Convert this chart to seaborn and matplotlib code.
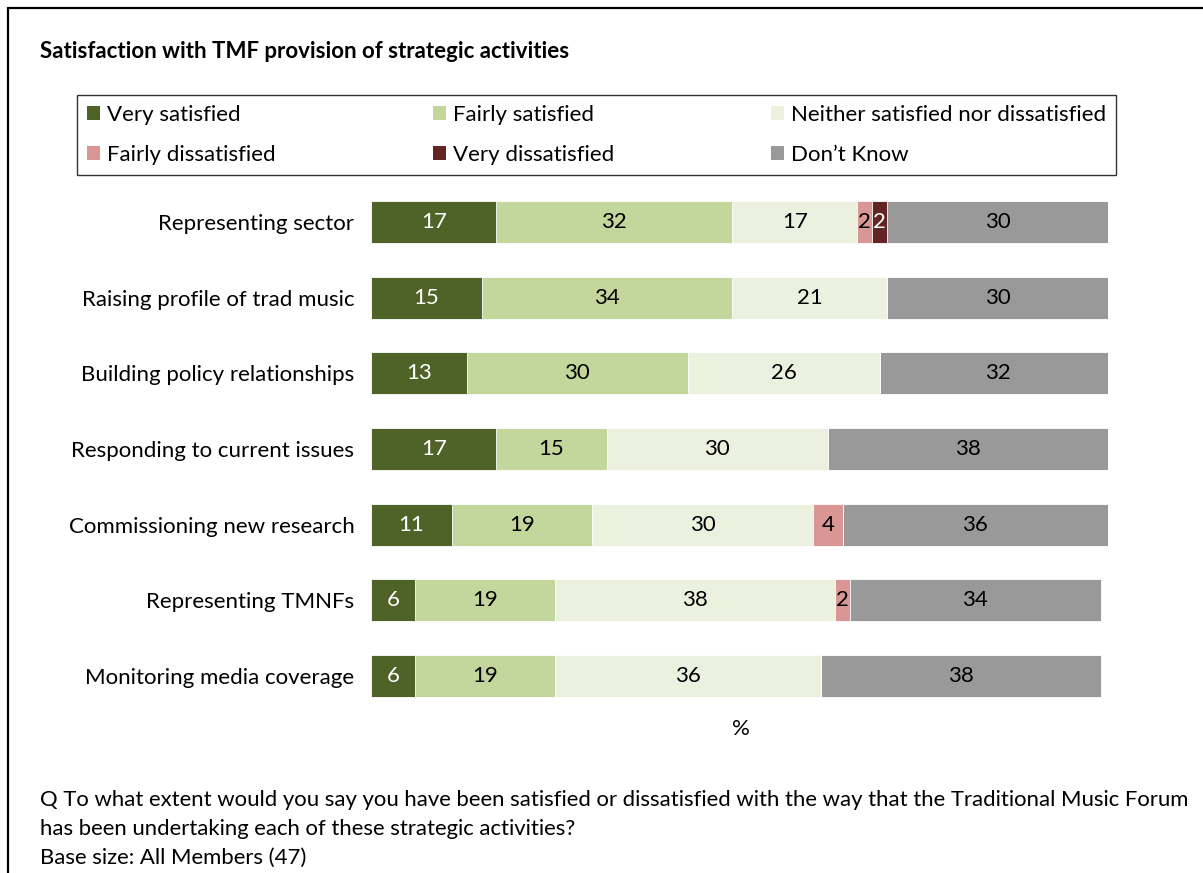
import numpy as np
import pandas as pd
import matplotlib
matplotlib.use("Agg")
import matplotlib.pyplot as plt
from matplotlib.patches import Patch
from matplotlib.lines import Line2D
import seaborn as sns

# Survey results (% of members) per strategic activity
activities = [
    "Representing sector",
    "Raising profile of trad music",
    "Building policy relationships",
    "Responding to current issues",
    "Commissioning new research",
    "Representing TMNFs",
    "Monitoring media coverage",
]
very_satisfied = [17, 15, 13, 17, 11, 6, 6]
fairly_satisfied = [32, 34, 30, 15, 19, 19, 19]
neither = [17, 21, 26, 30, 30, 38, 36]
fairly_dissatisfied = [2, 0, 0, 0, 4, 2, 0]
very_dissatisfied = [2, 0, 0, 0, 0, 0, 0]
dont_know = [30, 30, 32, 38, 36, 34, 38]

categories = ["Very satisfied", "Fairly satisfied",
              "Neither satisfied nor dissatisfied", "Fairly dissatisfied",
              "Very dissatisfied", "Don\u2019t Know"]
colors = ["#4F6228", "#C3D69B", "#EBF1DE", "#D99694", "#632523", "#999999"]
text_colors = ["white", "black", "black", "black", "white", "black"]

series = [very_satisfied, fairly_satisfied, neither,
          fairly_dissatisfied, very_dissatisfied, dont_know]

sns.set_theme(style="white")
plt.rcParams["font.family"] = ["Lato", "DejaVu Sans"]
plt.rcParams["text.color"] = "black"
plt.rcParams["ytick.color"] = "black"
plt.rcParams["axes.labelcolor"] = "black"

FS = 16

W, H = 1203, 873
fig = plt.figure(figsize=(W / 100, H / 100), dpi=100)


def fx(x):
    return x / W


def fy(y):
    return 1 - y / H


ax = fig.add_axes([fx(371), fy(714), fx(1108) - fx(371), fy(184) - fy(714)])

df = pd.DataFrame({"activity": activities})
cum = np.zeros(len(activities))
cums = []
for s in series:
    cum = cum + np.array(s)
    cums.append(cum.copy())
for i, c in enumerate(cums):
    df[categories[i]] = c

# Stack by overlaying cumulative totals, widest first
for i in range(len(categories) - 1, -1, -1):
    sns.barplot(data=df, x=categories[i], y="activity", orient="h",
                color=colors[i], saturation=1, width=0.555,
                edgecolor="white", linewidth=0.6, ax=ax)

# Segment value labels
for i, s in enumerate(series):
    for r, v in enumerate(s):
        if v > 0:
            centre = cums[i][r] - v / 2
            ax.text(centre, r, f"{v}", ha="center", va="center",
                    fontsize=FS, color=text_colors[i])

ax.set_xlim(0, 100)
ax.set_ylim(len(activities) - 0.5, -0.5)
ax.set_xlabel("")
ax.set_ylabel("")
ax.set_xticks([])
ax.tick_params(axis="y", length=0, pad=12, labelsize=FS, labelcolor="black")
for sp in ax.spines.values():
    sp.set_visible(False)

fig.text(fx(741), fy(729), "%", ha="center", va="center", fontsize=FS)

# Title
fig.text(fx(40), fy(51), "Satisfaction with TMF provision of strategic activities",
         ha="left", va="center", fontsize=16, fontweight="bold")

# Legend (row-wise order across three columns)
order = [0, 3, 1, 4, 2, 5]
handles = [Patch(facecolor=colors[k], edgecolor="none", label=categories[k]) for k in order]
leg = fig.legend(handles=handles, ncol=3, loc="upper left",
                 bbox_to_anchor=(fx(77), fy(173), fx(1116) - fx(77), fy(95) - fy(173)),
                 mode="expand", borderaxespad=0, fontsize=FS, frameon=True,
                 fancybox=False, edgecolor="black", borderpad=0.45,
                 labelspacing=0.9, handlelength=0.6, handleheight=0.6,
                 handletextpad=0.3, columnspacing=0.5)
leg.get_frame().set_linewidth(1.0)

# Question text
fig.text(fx(40), fy(800), "Q To what extent would you say you have been satisfied or dissatisfied "
         "with the way that the Traditional Music Forum", ha="left", va="center", fontsize=15.9)
fig.text(fx(40), fy(829), "has been undertaking each of these strategic activities?",
         ha="left", va="center", fontsize=15.9)
fig.text(fx(40), fy(858), "Base size: All Members (47)", ha="left", va="center", fontsize=15.9)

# Frame
fig.add_artist(Line2D([fx(8), fx(8)], [fy(8), 0], transform=fig.transFigure,
                      color="black", linewidth=1.6))
fig.add_artist(Line2D([fx(8), 1], [fy(8), fy(8)], transform=fig.transFigure,
                      color="black", linewidth=1.6))

fig.savefig("out.png", dpi=100)
